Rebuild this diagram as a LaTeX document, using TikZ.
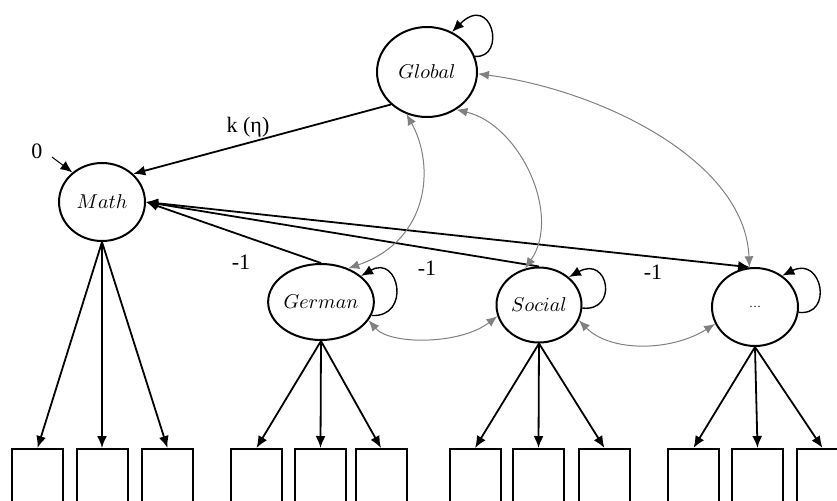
\documentclass[tikz,border=0pt]{standalone}
\usepackage{fontspec}
\setmainfont{Liberation Serif}
\usetikzlibrary{shapes.geometric, arrows.meta}
\tikzstyle{factor} = [ellipse, draw=black, line width=1pt, inner sep=0pt]
\tikzstyle{indicator} = [rectangle, draw=black, line width=1pt, minimum width=25.5pt, minimum height=31pt, inner sep=0pt]
\tikzstyle{arrow} = [line width=0.9pt, -{Latex[length=6pt,width=5pt]}]
\tikzstyle{selfloop} = [line width=0.7pt, -{Latex[length=6pt,width=5pt]}]
\tikzstyle{cov} = [gray, line width=0.5pt, {Latex[length=5.5pt,width=4.5pt]}-{Latex[length=5.5pt,width=4.5pt]}]
\tikzstyle{coef} = [font=\fontsize{11}{13}\selectfont]

\begin{document}
\begin{tikzpicture}[x=0.5pt, y=-0.5pt]
\clip (0,0) rectangle (837,500);

% Factors
\node (global) [factor, minimum width=50pt, minimum height=45pt] at (427,72) {$Global$};
\node (math) [factor, minimum width=43pt, minimum height=39pt] at (102,202) {$Math$};
\node (german) [factor, minimum width=42pt, minimum height=38pt] at (321,302) {$German$};
\node (social) [factor, minimum width=42.5pt, minimum height=37.5pt] at (539,305) {$Social$};
\node (dots) [factor, minimum width=43pt, minimum height=39pt] at (755,307) {\fontsize{6}{7}\selectfont\ldots};

% Indicators
\foreach \x [count=\i] in {37.5,102,167.5} \node (m\i) [indicator] at (\x,480) {};
\foreach \x [count=\i] in {256.5,320.5,381} \node (g\i) [indicator] at (\x,480) {};
\foreach \x [count=\i] in {475,538.5,604.5} \node (s\i) [indicator] at (\x,480) {};
\foreach \x [count=\i] in {693.5,757.5,822.5} \node (d\i) [indicator] at (\x,480) {};

% Labels
\node (zero) [coef] at (37,151) {0};
\node (kappa) [coef] at (248,127) {k (η)};
\node (w1) [coef] at (241,262) {-1};
\node (w2) [coef] at (427,268) {-1};
\node (w3) [coef] at (653,272) {-1};

% Loadings
\foreach \i in {1,2,3} {
  \draw [arrow] (math.south) -- (m\i.north);
  \draw [arrow] (german.south) -- (g\i.north);
  \draw [arrow] (social.south) -- (s\i.north);
  \draw [arrow] (dots.south) -- (d\i.north);
}
\draw [arrow] (global.222) -- (math.42);
\draw [arrow] (german.north) -- (math.east);
\draw [arrow] (social.north) -- (math.east);
\draw [arrow, {Latex[length=6pt,width=5pt]}-{Latex[length=6pt,width=5pt]}] (math.east) -- (dots.97);
\coordinate (z) at (52,157);
\draw [selfloop, line width=0.5pt] (z) -- (math.135);

% Residual variances
\draw [selfloop] (global.18) .. controls +(32,2) and +(40,-40) .. (global.58);
\draw [selfloop] (german.345) .. controls +(40,2) and +(38,-22) .. (german.33);
\draw [selfloop] (social.356) .. controls +(36,4) and +(40,-22) .. (social.43);
\draw [selfloop] (dots.353) .. controls +(35,4) and +(40,-20) .. (dots.49);

% Covariances
\draw [cov] (global.244) .. controls (435,165) and (430,240) .. (german.51);
\draw [cov] (global.308) .. controls (520,125) and (562,215) .. (social.111);
\draw [cov] (global.358) .. controls (600,90) and (745,160) .. (dots.98);
\draw [cov] (german.339) .. controls (390,345) and (460,345) .. (social.195);
\draw [cov] (social.339) .. controls (610,352) and (670,352) .. (dots.203);

\end{tikzpicture}
\end{document}
